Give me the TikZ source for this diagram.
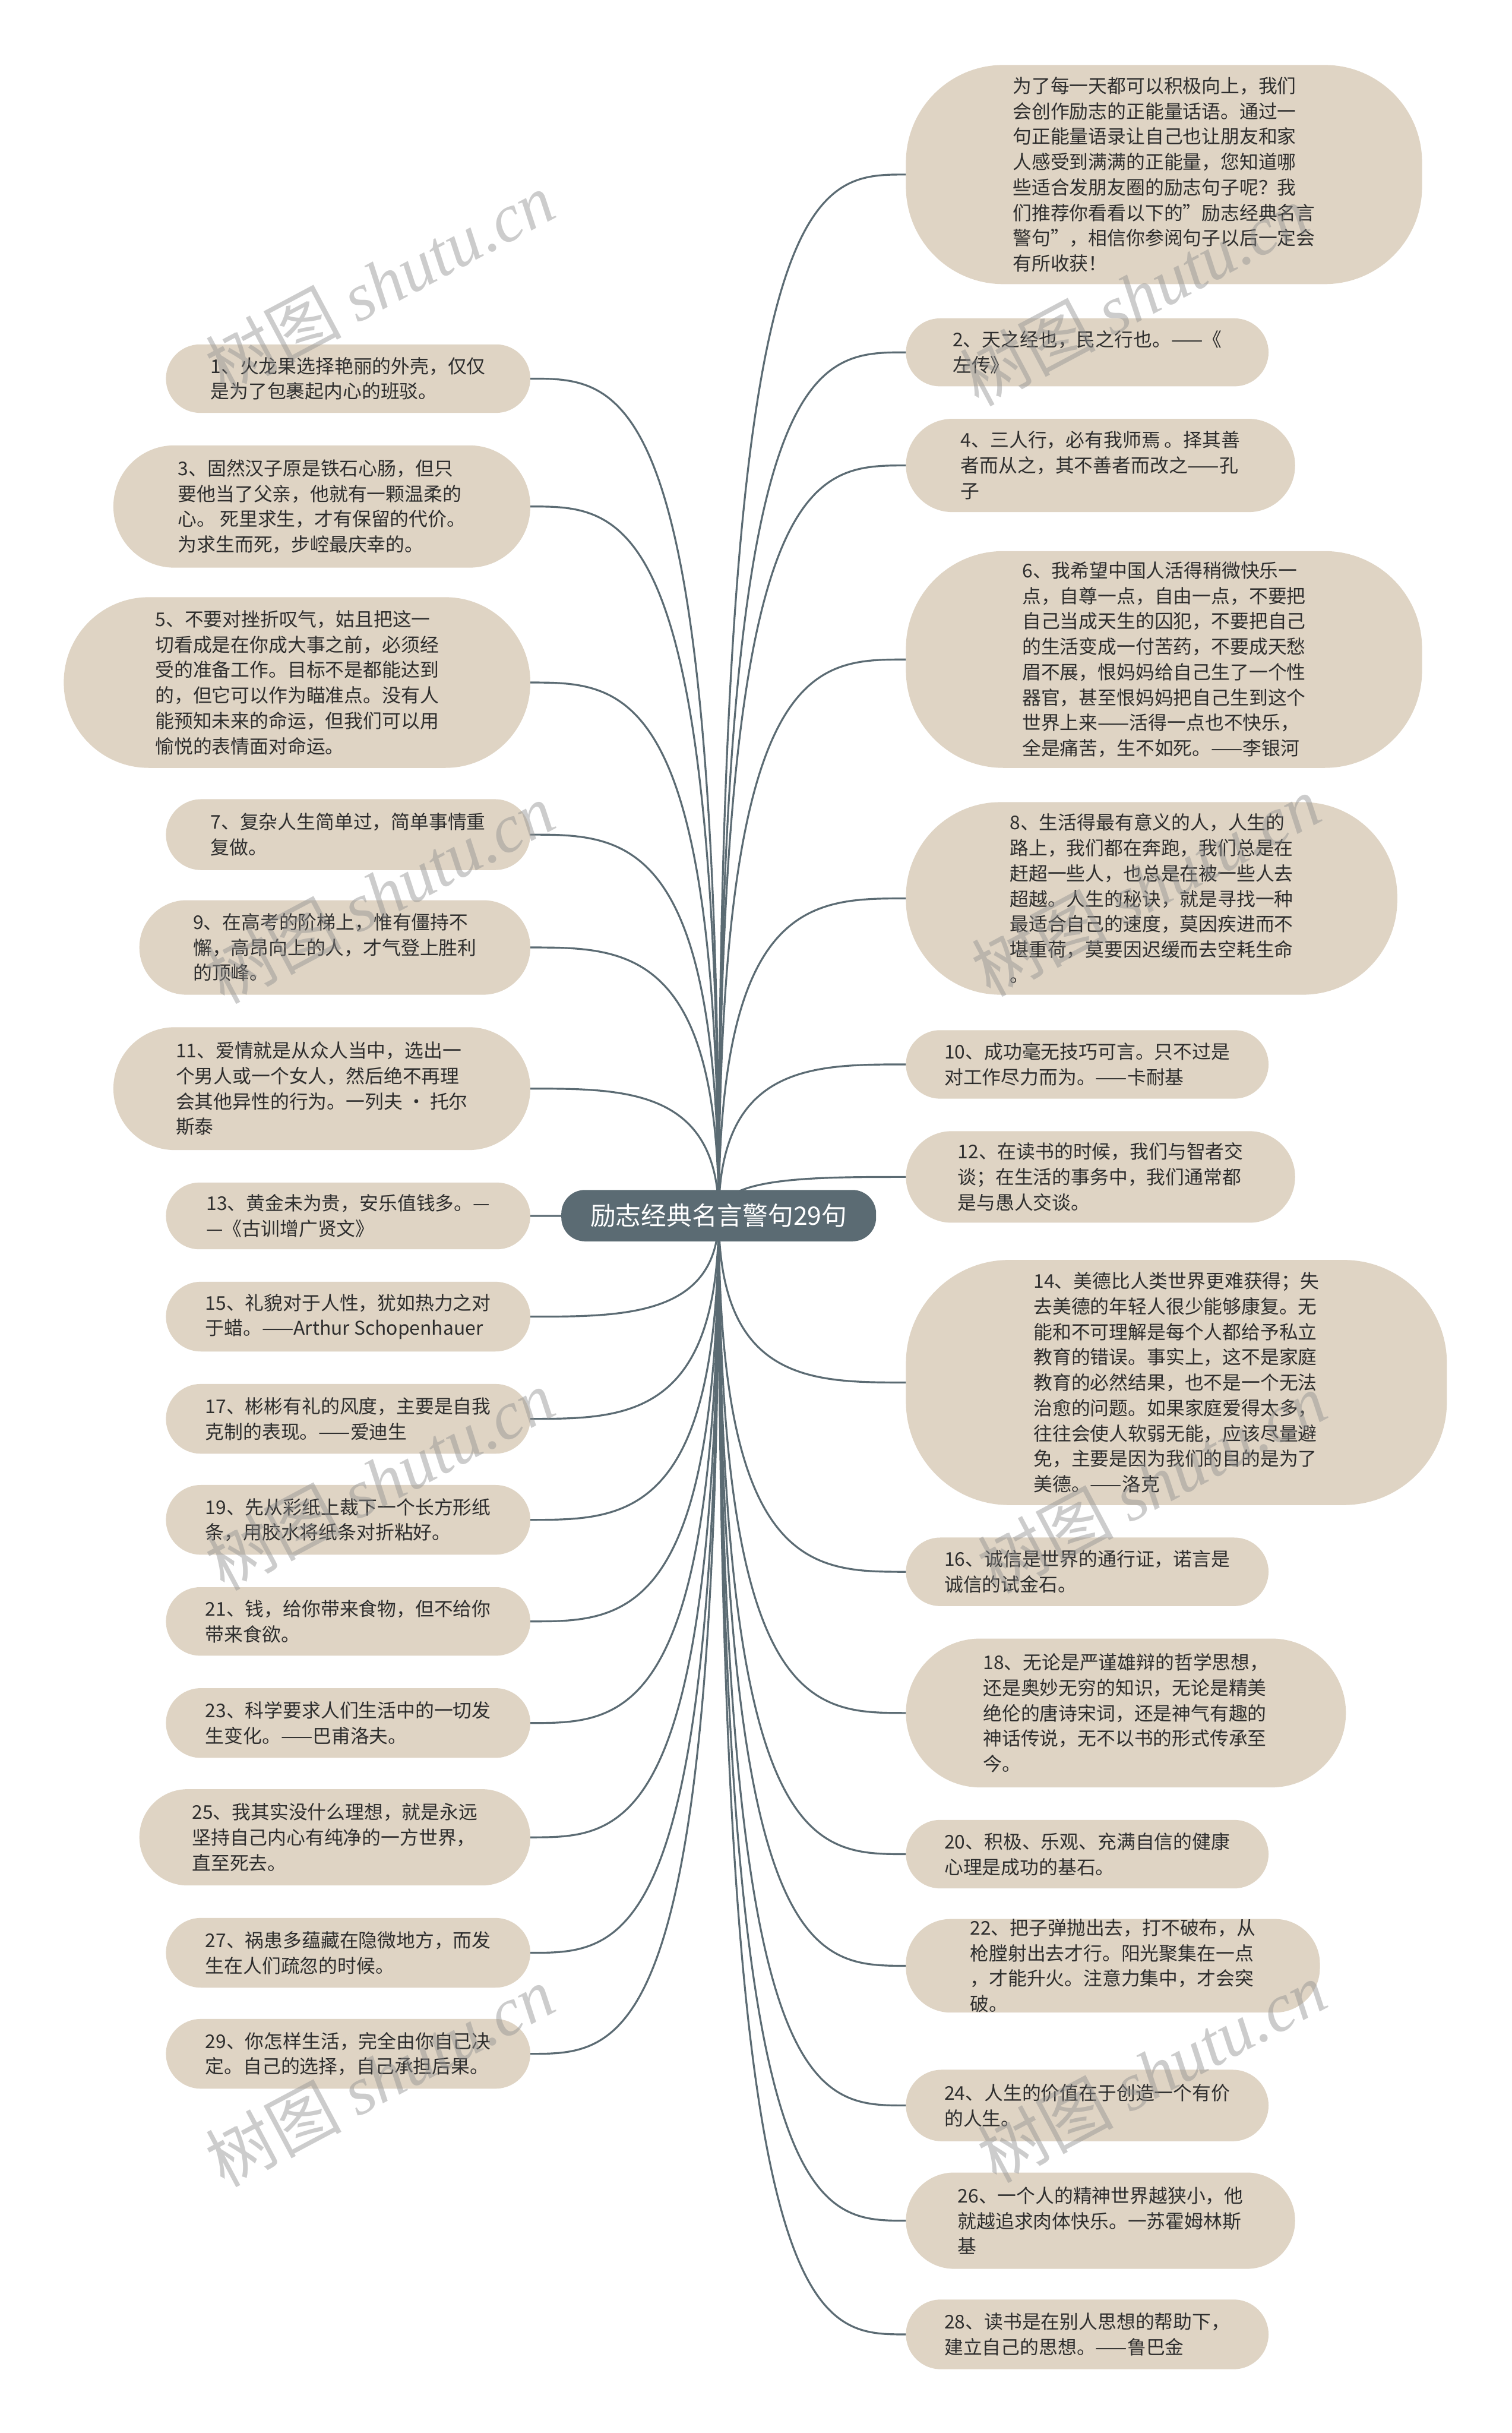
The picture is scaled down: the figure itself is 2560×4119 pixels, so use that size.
\documentclass[tikz,border=0pt]{standalone}
\usepackage{fontspec}
\setmainfont{Noto Sans CJK SC}
\newfontfamily\wmlatin{Liberation Serif}
\usetikzlibrary{calc}
\definecolor{boxfill}{HTML}{DFD4C4}
\definecolor{linecol}{HTML}{5B6B73}
\definecolor{hubfill}{HTML}{5B6B73}
\definecolor{textcol}{HTML}{2E2E2E}
\definecolor{wmcol}{HTML}{909090}
\newcommand\qnode[7]{\node[qbox, minimum width=#4pt, minimum height=#5pt, rounded corners=#6pt] (#1) at (#2,#3) {#7};}
\newcommand\rconn[1]{\draw[conn] (hub) .. controls (hub |- #1.west) and ($(hub |- #1.west)!0.5!(#1.west)$) .. (#1.west);}
\newcommand\lconn[1]{\draw[conn] (hub) .. controls (hub |- #1.east) and ($(hub |- #1.east)!0.5!(#1.east)$) .. (#1.east);}
\tikzset{
  qbox/.style={fill=boxfill, text=textcol, inner sep=0pt, align=left, font=\fontsize{32}{43}\selectfont},
  conn/.style={draw=linecol, line width=3.2pt},
  hubnode/.style={fill=hubfill, text=white, rounded corners=40pt, minimum width=533pt, minimum height=87pt, inner sep=0pt, font=\fontsize{43}{50}\selectfont},
  wm/.style={text=wmcol, text opacity=0.45, rotate=28, inner sep=0pt, font=\fontsize{115}{120}\selectfont}
}
\begin{document}
\begin{tikzpicture}[x=1pt,y=-1pt]
\fill[white] (0,0) rectangle (2560,4119);
\useasboundingbox (0,0) rectangle (2560,4119);
\coordinate (hub) at (1217,2058);

% right side
\qnode{R0}{1971}{295.5}{874}{371}{165}{为了每一天都可以积极向上，我们\\会创作励志的正能量话语。通过一\\句正能量语录让自己也让朋友和家\\人感受到满满的正能量，您知道哪\\些适合发朋友圈的励志句子呢？我\\们推荐你看看以下的"励志经典名言\\警句"，相信你参阅句子以后一定会\\有所收获！}
\qnode{R2}{1841}{596.5}{614}{115}{57.5}{2、天之经也，民之行也。——《\\左传》}
\qnode{R4}{1863.5}{788}{659}{158}{79}{4、三人行，必有我师焉 。择其善\\者而从之，其不善者而改之——孔\\子}
\qnode{R6}{1971}{1116.5}{874}{367}{165}{6、我希望中国人活得稍微快乐一\\点，自尊一点，自由一点，不要把\\自己当成天生的囚犯，不要把自己\\的生活变成一付苦药，不要成天愁\\眉不展，恨妈妈给自己生了一个性\\器官，甚至恨妈妈把自己生到这个\\世界上来——活得一点也不快乐，\\全是痛苦，生不如死。——李银河}
\qnode{R8}{1950}{1521}{832}{326}{160}{8、生活得最有意义的人，人生的\\路上，我们都在奔跑，我们总是在\\赶超一些人，也总是在被一些人去\\超越。人生的秘诀，就是寻找一种\\最适合自己的速度，莫因疾进而不\\堪重荷，莫要因迟缓而去空耗生命\\。}
\qnode{R10}{1841}{1802}{614}{116}{58}{10、成功毫无技巧可言。只不过是\\对工作尽力而为。——卡耐基}
\qnode{R12}{1863.5}{1992.5}{659}{155}{77.5}{12、在读书的时候，我们与智者交\\谈；在生活的事务中，我们通常都\\是与愚人交谈。}
\qnode{R14}{1992}{2340.5}{916}{415}{175}{14、美德比人类世界更难获得；失\\去美德的年轻人很少能够康复。无\\能和不可理解是每个人都给予私立\\教育的错误。事实上，这不是家庭\\教育的必然结果，也不是一个无法\\治愈的问题。如果家庭爱得太多，\\往往会使人软弱无能，应该尽量避\\免，主要是因为我们的目的是为了\\美德。——洛克}
\qnode{R16}{1841}{2661}{614}{116}{58}{16、诚信是世界的通行证，诺言是\\诚信的试金石。}
\qnode{R18}{1906.5}{2900}{745}{252}{126}{18、无论是严谨雄辩的哲学思想，\\还是奥妙无穷的知识，无论是精美\\绝伦的唐诗宋词，还是神气有趣的\\神话传说，无不以书的形式传承至\\今。}
\qnode{R20}{1841}{3139}{614}{116}{58}{20、积极、乐观、充满自信的健康\\心理是成功的基石。}
\qnode{R22}{1884.5}{3328}{701}{152}{76}{22、把子弹抛出去，打不破布，从\\枪膛射出去才行。阳光聚集在一点\\，才能升火。注意力集中，才会突\\破。}
\qnode{R24}{1841}{3564.5}{614}{121}{60.5}{24、人生的价值在于创造一个有价\\的人生。}
\qnode{R26}{1863.5}{3759.5}{659}{163}{81.5}{26、一个人的精神世界越狭小，他\\就越追求肉体快乐。一苏霍姆林斯\\基}
\qnode{R28}{1841}{3952}{614}{118}{59}{28、读书是在别人思想的帮助下，\\建立自己的思想。——鲁巴金}

% left side
\qnode{L1}{589.5}{641}{617}{116}{58}{1、火龙果选择艳丽的外壳，仅仅\\是为了包裹起内心的班驳。}
\qnode{L3}{545}{857.5}{706}{207}{103}{3、固然汉子原是铁石心肠，但只\\要他当了父亲，他就有一颗温柔的\\心。 死里求生，才有保留的代价。\\为求生而死，步崆最庆幸的。}
\qnode{L5}{503}{1155.5}{790}{289}{144}{5、不要对挫折叹气，姑且把这一\\切看成是在你成大事之前，必须经\\受的准备工作。目标不是都能达到\\的，但它可以作为瞄准点。没有人\\能预知未来的命运，但我们可以用\\愉悦的表情面对命运。}
\qnode{L7}{589.5}{1413}{617}{120}{60}{7、复杂人生简单过，简单事情重\\复做。}
\qnode{L9}{567}{1604}{662}{160}{80}{9、在高考的阶梯上，惟有僵持不\\懈，高昂向上的人，才气登上胜利\\的顶峰。}
\qnode{L11}{545}{1843}{706}{208}{104}{11、爱情就是从众人当中，选出一\\个男人或一个女人，然后绝不再理\\会其他异性的行为。一列夫 · 托尔\\斯泰}
\qnode{L13}{589.5}{2058.5}{617}{113}{56.5}{13、黄金未为贵，安乐值钱多。—\\—《古训增广贤文》}
\qnode{L15}{589.5}{2229}{617}{118}{59}{15、礼貌对于人性，犹如热力之对\\于蜡。——Arthur Schopenhauer}
\qnode{L17}{589.5}{2402}{617}{118}{59}{17、彬彬有礼的风度，主要是自我\\克制的表现。——爱迪生}
\qnode{L19}{589.5}{2573}{617}{118}{59}{19、先从彩纸上裁下一个长方形纸\\条，用胶水将纸条对折粘好。}
\qnode{L21}{589.5}{2745}{617}{116}{58}{21、钱，给你带来食物，但不给你\\带来食欲。}
\qnode{L23}{589.5}{2917}{617}{118}{59}{23、科学要求人们生活中的一切发\\生变化。——巴甫洛夫。}
\qnode{L25}{567}{3110.5}{662}{163}{81.5}{25、我其实没什么理想，就是永远\\坚持自己内心有纯净的一方世界，\\直至死去。}
\qnode{L27}{589.5}{3306}{617}{118}{59}{27、祸患多蕴藏在隐微地方，而发\\生在人们疏忽的时候。}
\qnode{L29}{589.5}{3477}{617}{118}{59}{29、你怎样生活，完全由你自己决\\定。自己的选择，自己承担后果。}

% connectors
\foreach \n in {R0,R2,R4,R6,R8,R10,R12,R14,R16,R18,R20,R22,R24,R26,R28} {\rconn{\n}}
\foreach \n in {L1,L3,L5,L7,L9,L11,L13,L15,L17,L19,L21,L23,L25,L27,L29} {\lconn{\n}}

\node[hubnode] (center) at (hub) {励志经典名言警句29句};

% watermarks
\node[wm] (wm1) at (643,478) {树图 {\wmlatin\itshape shutu.cn}};
\node[wm] (wm2) at (643,1512) {树图 {\wmlatin\itshape shutu.cn}};
\node[wm] (wm3) at (643,2505) {树图 {\wmlatin\itshape shutu.cn}};
\node[wm] (wm4) at (643,3515) {树图 {\wmlatin\itshape shutu.cn}};
\node[wm] (wm5) at (1920,500) {树图 {\wmlatin\itshape shutu.cn}};
\node[wm] (wm6) at (1940,1500) {树图 {\wmlatin\itshape shutu.cn}};
\node[wm] (wm7) at (1950,2510) {树图 {\wmlatin\itshape shutu.cn}};
\node[wm] (wm8) at (1950,3508) {树图 {\wmlatin\itshape shutu.cn}};
\end{tikzpicture}
\end{document}
